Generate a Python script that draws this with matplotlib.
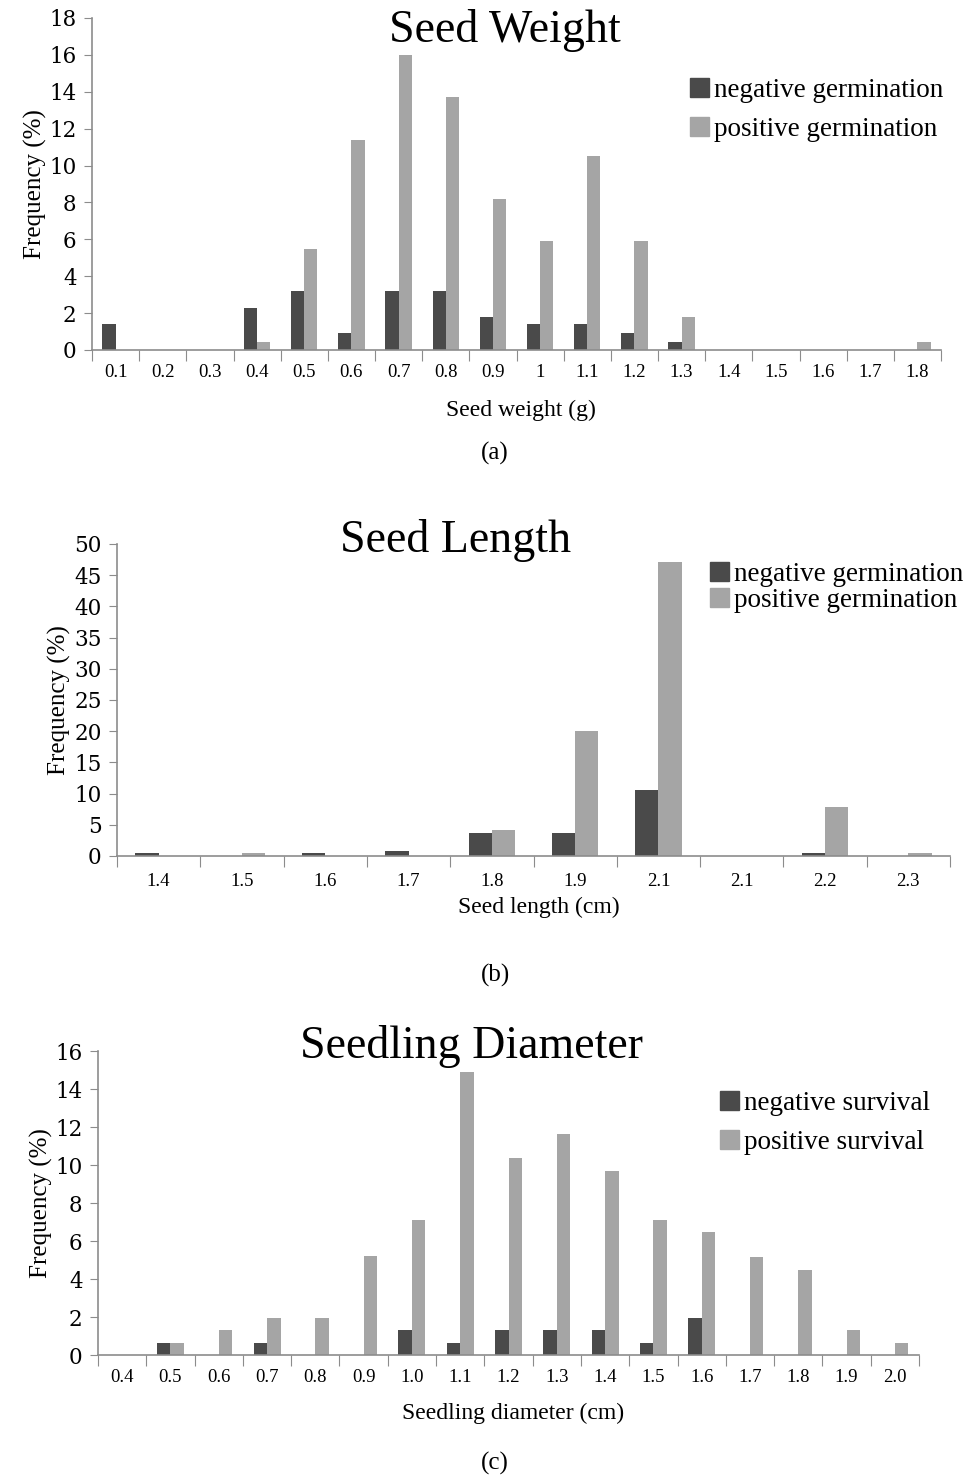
import numpy as np
import matplotlib
matplotlib.use('Agg')
import matplotlib.pyplot as plt
from matplotlib.patches import Patch

# --- data ---
weight_labels = ["0.1", "0.2", "0.3", "0.4", "0.5", "0.6", "0.7", "0.8", "0.9",
                 "1", "1.1", "1.2", "1.3", "1.4", "1.5", "1.6", "1.7", "1.8"]
weight_neg = [1.4, 0, 0, 2.3, 3.2, 0.9, 3.2, 3.2, 1.8, 1.4, 1.4, 0.9, 0.45, 0, 0, 0, 0, 0]
weight_pos = [0, 0, 0, 0.45, 5.45, 11.4, 16.0, 13.7, 8.2, 5.9, 10.5, 5.9, 1.8, 0, 0, 0, 0, 0.45]

length_labels = ["1.4", "1.5", "1.6", "1.7", "1.8", "1.9", "2.1", "2.1", "2.2", "2.3"]
length_neg = [0.5, 0, 0.5, 0.8, 3.7, 3.7, 10.5, 0, 0.5, 0]
length_pos = [0, 0.5, 0, 0, 4.1, 20.0, 47.1, 0, 7.8, 0.5]

diam_labels = ["0.4", "0.5", "0.6", "0.7", "0.8", "0.9", "1.0", "1.1", "1.2",
               "1.3", "1.4", "1.5", "1.6", "1.7", "1.8", "1.9", "2.0"]
diam_neg = [0, 0.65, 0, 0.65, 0, 0, 1.3, 0.65, 1.3, 1.3, 1.3, 0.65, 1.95, 0, 0, 0, 0]
diam_pos = [0, 0.65, 1.3, 1.95, 1.95, 5.2, 7.1, 14.9, 10.35, 11.65, 9.7, 7.1, 6.45, 5.15, 4.5, 1.3, 0.65]

DARK = "#4a4a4a"
LIGHT = "#a5a5a5"
AXIS = "#8c8c8c"
SERIF = ["Liberation Serif", "DejaVu Serif"]
plt.rcParams['font.family'] = SERIF

W, H = 967, 1479
fig = plt.figure(figsize=(W / 100, H / 100), dpi=100)


def rect(l, r, t, b):
    return [l / W, 1 - b / H, (r - l) / W, (b - t) / H]


def panel(box, labels, neg, pos, ymax, ystep, title, title_xy, xlabel, xlabel_y,
          leg_names, leg_xy, tag, tag_y, bw=0.28, tick_pad=10):
    ax = fig.add_axes(rect(*box))
    n = len(labels)
    x = np.arange(n)
    ax.bar(x - bw / 2, neg, width=bw, color=DARK, zorder=2)
    ax.bar(x + bw / 2, pos, width=bw, color=LIGHT, zorder=2)
    ax.set_xlim(-0.5, n - 0.5)
    ax.set_ylim(0, ymax)
    yt = np.arange(0, ymax + 0.01, ystep)
    ax.set_yticks(yt, [f"{v:g}" for v in yt], fontfamily="DejaVu Serif", fontsize=15.5)
    ax.set_xticks(np.arange(n + 1) - 0.5)
    ax.set_xticklabels([])
    ax.set_xticks(x, minor=True)
    ax.set_xticklabels(labels, minor=True, fontsize=13.5)
    ax.tick_params(axis='x', which='major', length=8, color=AXIS, direction='out')
    ax.tick_params(axis='x', which='minor', length=0, pad=tick_pad)
    ax.tick_params(axis='y', length=6, color=AXIS, pad=5)
    for s in ['top', 'right']:
        ax.spines[s].set_visible(False)
    for s in ['left', 'bottom']:
        ax.spines[s].set_color(AXIS)
        ax.spines[s].set_linewidth(1.2)
    ax.set_ylabel("Frequency (%)", fontsize=18, labelpad=2)
    fig.text(title_xy[0] / W, 1 - title_xy[1] / H, title, fontsize=33,
             ha='center', va='center')
    fig.text((box[0] + box[1]) / 2 / W + 0.005, 1 - xlabel_y / H, xlabel, fontsize=17,
             ha='center', va='center')
    fig.text(495 / W, 1 - tag_y / H, tag, fontsize=18, ha='center', va='center')
    handles = [Patch(color=DARK), Patch(color=LIGHT)]
    fig.legend(handles, leg_names, loc='upper left',
               bbox_to_anchor=(leg_xy[0] / W, 1 - leg_xy[1] / H),
               frameon=False, fontsize=19.5, handlelength=0.7, handleheight=0.7,
               handletextpad=0.2, labelspacing=leg_xy[2],
               borderpad=0, borderaxespad=0)
    return ax


panel((92, 941, 18, 350), weight_labels, weight_neg, weight_pos, 18, 2,
      "Seed Weight", (505, 30), "Seed weight (g)", 410,
      ["negative germination", "positive germination"], (690, 78, 0.5), "(a)", 453)

panel((117, 950, 544, 856), length_labels, length_neg, length_pos, 50, 5,
      "Seed Length", (456, 541), "Seed length (cm)", 907,
      ["negative germination", "positive germination"], (710, 562, 0.05), "(b)", 975,
      tick_pad=12)

panel((98, 919, 1051, 1355), diam_labels, diam_neg, diam_pos, 16, 2,
      "Seedling Diameter", (472, 1046), "Seedling diameter (cm)", 1413,
      ["negative survival", "positive survival"], (720, 1091, 0.5), "(c)", 1463)

fig.savefig("out.png", dpi=100, facecolor="white")
